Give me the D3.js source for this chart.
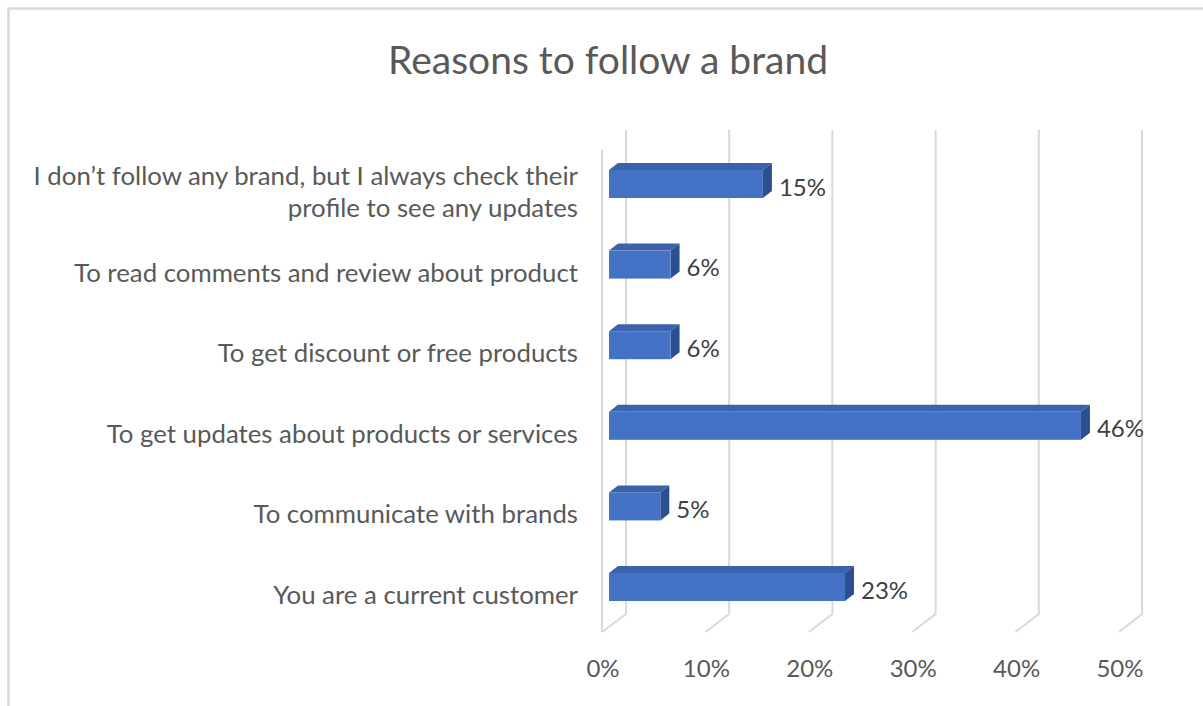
<!DOCTYPE html>
<html>
<head>
<meta charset="utf-8">
<script src="https://cdn.jsdelivr.net/npm/d3@7"></script>
<style>
  html, body { margin: 0; padding: 0; background: #ffffff; }
  svg { display: block; }
  text { font-family: Lato, "Open Sans", sans-serif; }
</style>
</head>
<body>
<svg id="chart" width="1203" height="706"></svg>
<script>
// Survey answers, top to bottom
const categories = [
  ["I don\u2019t follow any brand, but I always check their", "profile to see any updates"],
  ["To read comments and review about product"],
  ["To get discount or free products"],
  ["To get updates about products or services"],
  ["To communicate with brands"],
  ["You are a current customer"]
];
const values = [15, 6, 6, 46, 5, 23];
const ticks = [0, 10, 20, 30, 40, 50];
const tickLabels = ["0%", "10%", "20%", "30%", "40%", "50%"];
const title = "Reasons to follow a brand";

const svg = d3.select("#chart");
const W = 1203, H = 706;

// chart frame
svg.append("rect")
  .attr("x", 8.5).attr("y", 8.5)
  .attr("width", W + 20).attr("height", H + 20)
  .attr("fill", "#ffffff")
  .attr("stroke", "#d9d9d9").attr("stroke-width", 2.5);

// title
svg.append("text")
  .attr("x", 608).attr("y", 59)
  .attr("text-anchor", "middle").attr("dominant-baseline", "central")
  .attr("font-size", 39).attr("fill", "#595959")
  .text(title);

// 3D box geometry: front edge of floor, back wall, bars sit in between
const xFront = d3.scaleLinear().domain([0, 50]).range([602, 1119]);
const xBack  = d3.scaleLinear().domain([0, 50]).range([626, 1142]);
const xBar   = d3.scaleLinear().domain([0, 50]).range([609, 1122]);
const backTop = 130, backBottom = 614, frontBottom = 632, wallTop = 150;

const y = d3.scalePoint()
  .domain(d3.range(categories.length))
  .range([184, 587]);

const barH = 28, dx = 9, dy = 7;
const grid = svg.append("g").attr("stroke", "#d9d9d9").attr("stroke-width", 2).attr("fill", "none");

// side wall edge at 0
grid.append("line")
  .attr("x1", xFront(0)).attr("x2", xFront(0))
  .attr("y1", wallTop).attr("y2", frontBottom);

// back wall gridlines and floor diagonals
ticks.forEach(t => {
  grid.append("polyline")
    .attr("points", [
      [xBack(t), backTop], [xBack(t), backBottom], [xFront(t), frontBottom]
    ].map(p => p.join(",")).join(" "));
});

// tick labels
svg.append("g").selectAll("text")
  .data(ticks)
  .join("text")
  .attr("x", d => xFront(d) + 1)
  .attr("y", 667)
  .attr("text-anchor", "middle").attr("dominant-baseline", "central")
  .attr("font-size", 24).attr("fill", "#595959")
  .text((d, i) => tickLabels[i]);

// category labels
const labels = svg.append("g");
categories.forEach((lines, i) => {
  const cy = y(i) + 7;
  const lh = 32;
  const startY = cy - (lines.length - 1) * lh / 2;
  const txt = labels.append("text")
    .attr("text-anchor", "end")
    .attr("font-size", 25.8).attr("fill", "#595959");
  lines.forEach((ln, k) => {
    txt.append("tspan")
      .attr("x", 578)
      .attr("y", startY + k * lh)
      .attr("dominant-baseline", "central")
      .text(ln);
  });
});

// bars as 3D blocks: top face, right side, front face
const bars = svg.append("g");
values.forEach((v, i) => {
  const c = y(i);
  const x0 = xBar(0), x1 = xBar(v);
  const top = c - barH / 2, bot = c + barH / 2;
  const g = bars.append("g");
  g.append("polygon")
    .attr("points", [[x0, top], [x0 + dx, top - dy], [x1 + dx, top - dy], [x1, top]].map(p => p.join(",")).join(" "))
    .attr("fill", "#3b63ad");
  g.append("polygon")
    .attr("points", [[x1, top], [x1 + dx, top - dy], [x1 + dx, bot - dy], [x1, bot]].map(p => p.join(",")).join(" "))
    .attr("fill", "#2c4f8f");
  g.append("rect")
    .attr("x", x0).attr("y", top)
    .attr("width", x1 - x0).attr("height", barH)
    .attr("fill", "#4472c4");
  // value label
  g.append("text")
    .attr("x", x1 + dx + 7).attr("y", c + 2)
    .attr("dominant-baseline", "central")
    .attr("font-size", 24).attr("fill", "#404040")
    .text(v + "%");
});
</script>
</body>
</html>
